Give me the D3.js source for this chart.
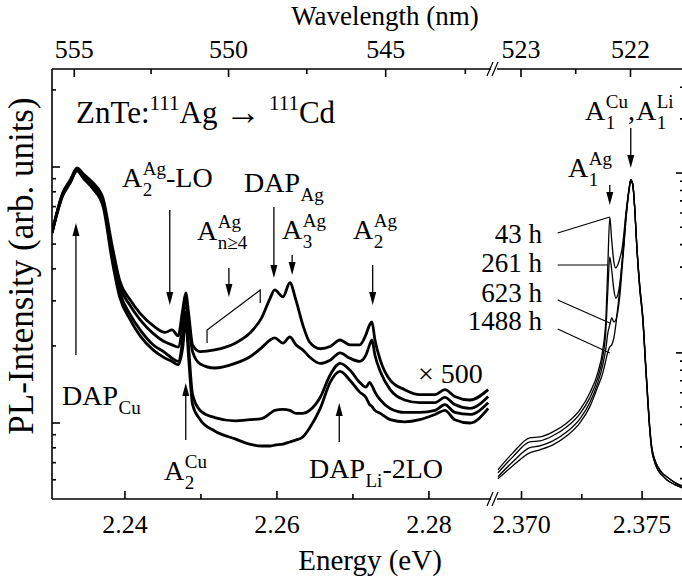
<!DOCTYPE html>
<html>
<head>
<meta charset="utf-8">
<script src="https://cdn.jsdelivr.net/npm/d3@7"></script>
<style>
body { margin: 0; background: #fff; }
text { font-family: "Liberation Serif", "Times New Roman", Times, serif; fill: #000; }
</style>
</head>
<body>
<svg id="plot" width="682" height="583" font-family="Liberation Serif"></svg>
<script>
// left panel (x500), energies in eV, intensity arb. units
const energyL = [2.2304, 2.2318, 2.2328, 2.2337, 2.2345, 2.2358, 2.2371, 2.2383, 2.2393, 2.2407,
    2.2420, 2.2437, 2.2453, 2.2462, 2.2470, 2.2476, 2.2480, 2.2484, 2.2489, 2.2499,
    2.2518, 2.2545, 2.2564, 2.2580, 2.2591, 2.2597, 2.2608, 2.2617, 2.2625, 2.2634,
    2.2643, 2.2657, 2.2670, 2.2683, 2.2696, 2.2709, 2.2717, 2.2722, 2.2725, 2.2729,
    2.2736, 2.2749, 2.2768, 2.2788, 2.2808, 2.2821, 2.2834, 2.2854, 2.2878];
const int43L = [5.53, 7.92, 8.89, 9.91, 9.41, 8.67, 7.57, 4.96, 3.61, 3.02,
    2.68, 2.40, 2.26, 2.31, 2.19, 2.77, 3.22, 2.65, 2.02, 1.90,
    1.93, 2.05, 2.24, 2.58, 3.07, 3.31, 3.11, 3.53, 3.02, 2.42,
    2.07, 1.95, 1.99, 2.11, 2.02, 2.02, 2.21, 2.42, 2.48, 2.11,
    1.76, 1.47, 1.35, 1.29, 1.29, 1.35, 1.27, 1.23, 1.35];
const int261L = [5.53, 7.85, 8.81, 9.83, 9.23, 8.51, 7.37, 4.73, 3.45, 2.87,
    2.53, 2.24, 2.07, 2.02, 1.98, 2.42, 3.02, 2.42, 1.90, 1.70,
    1.64, 1.71, 1.81, 1.97, 2.11, 2.15, 2.05, 2.17, 2.02, 1.93,
    1.81, 1.71, 1.76, 1.88, 1.79, 1.74, 1.84, 2.02, 2.11, 1.84,
    1.59, 1.35, 1.23, 1.20, 1.20, 1.26, 1.18, 1.14, 1.27];
const int623L = [5.53, 7.78, 8.74, 9.73, 9.14, 8.36, 7.24, 4.53, 3.26, 2.65,
    2.31, 2.02, 1.88, 1.79, 1.74, 2.11, 2.71, 1.93, 1.29, 1.12,
    1.05, 1.02, 1.03, 1.04, 1.09, 1.12, 1.13, 1.12, 1.09, 1.09,
    1.12, 1.26, 1.54, 1.71, 1.61, 1.44, 1.38, 1.44, 1.40, 1.32,
    1.23, 1.14, 1.10, 1.10, 1.12, 1.18, 1.10, 1.08, 1.20];
const int1488L = [5.53, 7.70, 8.67, 9.65, 9.06, 8.21, 7.05, 4.33, 3.11, 2.53,
    2.19, 1.93, 1.79, 1.74, 1.69, 1.97, 2.53, 1.76, 1.18, 1.03,
    0.931, 0.867, 0.827, 0.813, 0.813, 0.820, 0.827, 0.843, 0.858, 0.882,
    0.956, 1.14, 1.44, 1.59, 1.47, 1.32, 1.26, 1.18, 1.16, 1.12,
    1.09, 1.03, 1.01, 1.03, 1.08, 1.12, 1.03, 1.00, 1.14];

// right panel (exciton region)
const energyR = [2.36902, 2.36964, 2.37034, 2.37076, 2.37130, 2.37188, 2.37242, 2.37283, 2.37316, 2.37337,
    2.37350, 2.37358, 2.37366, 2.37374, 2.37383, 2.37391, 2.37399, 2.37408, 2.37416, 2.37424,
    2.37432, 2.37441, 2.37449, 2.37453, 2.37461, 2.37470, 2.37478, 2.37490, 2.37503, 2.37515,
    2.37524, 2.37532, 2.37540, 2.37553, 2.37565, 2.37586, 2.37602, 2.37636, 2.37665, 2.37698];
const int43R = [0.224, 0.278, 0.337, 0.341, 0.364, 0.408, 0.482, 0.599, 0.774, 1.039,
    1.565, 3.08, 5.69, 4.25, 3.20, 2.97, 3.08, 3.37, 3.73, 4.52,
    5.84, 7.36, 8.69, 9.15, 8.69, 6.23, 3.98, 2.39, 1.585, 0.858,
    0.548, 0.383, 0.300, 0.254, 0.233, 0.213, 0.205, 0.190, 0.182, 0.178];
const int261R = [0.215, 0.264, 0.320, 0.324, 0.346, 0.388, 0.458, 0.562, 0.726, 0.950,
    1.342, 2.24, 3.41, 2.89, 2.24, 2.02, 2.10, 2.45, 3.08, 3.98,
    5.34, 7.08, 8.58, 9.15, 8.69, 6.23, 3.98, 2.39, 1.585, 0.858,
    0.548, 0.383, 0.300, 0.254, 0.233, 0.213, 0.205, 0.190, 0.182, 0.178];
const int623R = [0.205, 0.248, 0.297, 0.304, 0.324, 0.364, 0.430, 0.528, 0.681, 0.858,
    1.066, 1.292, 1.431, 1.565, 1.486, 1.525, 1.69, 2.10, 2.82, 3.83,
    5.34, 7.08, 8.58, 9.15, 8.69, 6.15, 3.88, 2.30, 1.525, 0.825,
    0.528, 0.369, 0.289, 0.245, 0.224, 0.207, 0.197, 0.185, 0.178, 0.173];
const int1488R = [0.1995, 0.236, 0.278, 0.289, 0.308, 0.346, 0.408, 0.501, 0.647, 0.774,
    0.914, 1.013, 1.080, 1.108, 1.212, 1.431, 1.778, 2.30, 3.08, 4.14,
    5.62, 7.26, 8.69, 9.15, 8.69, 6.15, 3.88, 2.30, 1.525, 0.825,
    0.528, 0.369, 0.289, 0.245, 0.224, 0.207, 0.197, 0.185, 0.178, 0.173];

// axis ticks
const energyTicksL = [2.24, 2.26, 2.28];
const energyMinorL = [2.25, 2.27];
const energyTicksR = [2.370, 2.375];
const energyMinorR = [2.3725];
const waveTicksL = [555, 550, 545];
const waveMinorL = [552.5, 547.5, 542.5];
const waveTicksR = [523, 522];
const waveMinorR = [522.5];
const yMajorL = [1, 10];
const yMinorL = [0.6, 0.7, 0.8, 0.9, 2, 3, 4, 5, 6, 7, 8, 9, 20];
const yMajorR = [1, 10];
const yMinorR = [0.2, 0.3, 0.4, 0.5, 0.6, 0.7, 0.8, 0.9, 2, 3, 4, 5, 6, 7, 8, 9, 20, 30];

const svg = d3.select("#plot");
const topY = 69, bottomY = 499, leftX = 52;
const breakL = 491, breakR = 497, rightEdge = 686;

const xL = d3.scaleLinear().domain([2.2304, 2.2883]).range([52, 492]);
const xR = d3.scaleLinear().domain([2.3689, 2.3768]).range([495, 685.5]);
const yL = d3.scaleLog().domain([0.5048, 24.14]).range([bottomY, topY]);
const yR = d3.scaleLog().domain([0.154, 37.9]).range([bottomY, topY]);

// wavelength in air (nm) -> photon energy (eV)
function nmToEV(nm) { return 1239.842 / (nm * 1.000277); }

// clip paths
const defs = svg.append("defs");
defs.append("clipPath").attr("id", "clipL").append("rect")
    .attr("x", leftX).attr("y", topY).attr("width", breakL - leftX).attr("height", bottomY - topY);
defs.append("clipPath").attr("id", "clipR").append("rect")
    .attr("x", breakR).attr("y", topY).attr("width", rightEdge - breakR).attr("height", bottomY - topY);

// curves
const lineL = d3.line().x(d => xL(d[0])).y(d => yL(d[1])).curve(d3.curveMonotoneX);
const lineR = d3.line().x(d => xR(d[0])).y(d => yR(d[1])).curve(d3.curveMonotoneX);

[int43L, int261L, int623L, int1488L].forEach(function(s) {
    svg.append("path")
        .attr("clip-path", "url(#clipL)")
        .attr("d", lineL(d3.zip(energyL, s)))
        .attr("fill", "none")
        .attr("stroke", "#000")
        .attr("stroke-width", 2.8)
        .attr("stroke-linejoin", "round");
});
[int43R, int261R, int623R, int1488R].forEach(function(s) {
    svg.append("path")
        .attr("clip-path", "url(#clipR)")
        .attr("d", lineR(d3.zip(energyR, s)))
        .attr("fill", "none")
        .attr("stroke", "#000")
        .attr("stroke-width", 1.3);
});

// frame
const frame = svg.append("g").attr("stroke", "#000").attr("stroke-width", 1.6).attr("fill", "none");
frame.append("line").attr("x1", leftX).attr("x2", leftX).attr("y1", topY).attr("y2", bottomY);
frame.append("line").attr("x1", leftX).attr("x2", breakL).attr("y1", topY).attr("y2", topY);
frame.append("line").attr("x1", breakR).attr("x2", rightEdge).attr("y1", topY).attr("y2", topY);
frame.append("line").attr("x1", leftX).attr("x2", breakL).attr("y1", bottomY).attr("y2", bottomY);
frame.append("line").attr("x1", breakR).attr("x2", rightEdge).attr("y1", bottomY).attr("y2", bottomY);
frame.append("line").attr("x1", 684).attr("x2", 684).attr("y1", topY).attr("y2", bottomY);

// break marks
[topY, bottomY].forEach(function(yy) {
    [breakL - 1, breakR - 2].forEach(function(bx) {
        frame.append("line").attr("stroke-width", 1.2)
            .attr("x1", bx - 3).attr("y1", yy + 7).attr("x2", bx + 3).attr("y2", yy - 7);
    });
});

// x ticks
function xTick(x, y, len) {
    frame.append("line").attr("x1", x).attr("x2", x).attr("y1", y).attr("y2", y + len);
}
energyTicksL.forEach(e => xTick(xL(e), bottomY, -8));
energyMinorL.forEach(e => xTick(xL(e), bottomY, -5));
energyTicksR.forEach(e => xTick(xR(e), bottomY, -8));
energyMinorR.forEach(e => xTick(xR(e), bottomY, -5));
waveTicksL.forEach(w => xTick(xL(nmToEV(w)), topY, 8));
waveMinorL.forEach(w => xTick(xL(nmToEV(w)), topY, 5));
waveTicksR.forEach(w => xTick(xR(nmToEV(w)), topY, 8));
waveMinorR.forEach(w => xTick(xR(nmToEV(w)), topY, 5));

// y ticks
function yTick(x, y, len) {
    frame.append("line").attr("x1", x).attr("x2", x + len).attr("y1", y).attr("y2", y);
}
yMajorL.forEach(v => yTick(leftX, yL(v), 8));
yMinorL.forEach(v => yTick(leftX, yL(v), 4));
yMajorR.forEach(v => yTick(684, yR(v), -8));
yMinorR.forEach(v => yTick(684, yR(v), -4));

// tick labels
const fmt3 = d3.format(".3f"), fmt2 = d3.format(".2f");
const tickF = 26;
energyTicksL.forEach(function(e) {
    svg.append("text").attr("x", xL(e)).attr("y", 533).attr("text-anchor", "middle")
        .attr("font-size", tickF).text(fmt2(e));
});
energyTicksR.forEach(function(e) {
    svg.append("text").attr("x", xR(e)).attr("y", 533).attr("text-anchor", "middle")
        .attr("font-size", tickF).text(fmt3(e));
});
waveTicksL.forEach(function(w) {
    svg.append("text").attr("x", xL(nmToEV(w))).attr("y", 58).attr("text-anchor", "middle")
        .attr("font-size", tickF).text(w);
});
waveTicksR.forEach(function(w) {
    svg.append("text").attr("x", xR(nmToEV(w))).attr("y", 58).attr("text-anchor", "middle")
        .attr("font-size", tickF).text(w);
});

// axis titles
svg.append("text").attr("x", 370).attr("y", 570).attr("text-anchor", "middle")
    .attr("font-size", 29).text("Energy (eV)");
svg.append("text").attr("x", 385).attr("y", 25).attr("text-anchor", "middle")
    .attr("font-size", 27).text("Wavelength (nm)");
svg.append("text").attr("transform", "translate(33,266) rotate(-90)").attr("text-anchor", "middle")
    .attr("font-size", 35).text("PL-Intensity (arb. units)");

// labels with stacked sub/superscripts
const bigF = 28, smallF = 19;
function label(x, y, base, sup, sub, rest) {
    const t = svg.append("text").attr("x", x).attr("y", y).attr("font-size", bigF).text(base);
    const x2 = x + t.node().getComputedTextLength() + 0.5;
    let w = 0;
    if (sup) {
        const s = svg.append("text").attr("x", x2).attr("y", y - 12).attr("font-size", smallF).text(sup);
        w = Math.max(w, s.node().getComputedTextLength());
    }
    if (sub) {
        const s = svg.append("text").attr("x", x2).attr("y", y + 9).attr("font-size", smallF).text(sub);
        w = Math.max(w, s.node().getComputedTextLength());
    }
    let x3 = x2 + w;
    if (rest) {
        const r = svg.append("text").attr("x", x3).attr("y", y).attr("font-size", bigF).text(rest);
        x3 += r.node().getComputedTextLength();
    }
    return x3;
}

// title inside plot
const zt = svg.append("text").attr("x", 76).attr("y", 123).attr("font-size", 31);
zt.append("tspan").text("ZnTe:");
zt.append("tspan").attr("dy", -13).attr("font-size", 21).text("111");
zt.append("tspan").attr("dy", 13).text("Ag ");
zt.append("tspan").attr("font-size", 36).attr("dy", 1).text("\u2192");
zt.append("tspan").attr("dy", -1).text(" ");
zt.append("tspan").attr("dy", -13).attr("font-size", 21).text("111");
zt.append("tspan").attr("dy", 13).text("Cd");

label(122, 187, "A", "Ag", "2", "-LO");
label(244, 192, "DAP", null, "Ag", null);
label(197, 240, "A", "Ag", "n\u22654", null);
label(282, 239, "A", "Ag", "3", null);
label(353, 239, "A", "Ag", "2", null);
label(62, 405, "DAP", null, "Cu", null);
label(164, 480, "A", "Cu", "2", null);
label(309, 478, "DAP", null, "Li", "-2LO");
const xc = label(585, 120, "A", "Cu", "1", ",");
label(xc + 1, 120, "A", "Li", "1", null);
label(568, 177, "A", "Ag", "1", null);
svg.append("text").attr("x", 418).attr("y", 383).attr("font-size", bigF).text("\u00d7 500");

// arrows: energy position, start y, tip y
const arrowsL = [[2.2459, 210, 305], [2.23355, 355, 223], [2.25368, 268, 297], [2.2596, 207, 278],
    [2.2620, 255, 275], [2.2726, 265, 305], [2.2480, 440, 383], [2.2682, 442, 403]];
const arrowsR = [[2.37453, 128, 168], [2.37366, 185, 205]];
function arrow(x, y1, y2) {
    const dir = y2 > y1 ? 1 : -1;
    svg.append("line").attr("x1", x).attr("x2", x).attr("y1", y1).attr("y2", y2 - dir * 10)
        .attr("stroke", "#000").attr("stroke-width", 1.3);
    svg.append("path")
        .attr("d", `M${x},${y2} L${x - 3.5},${y2 - dir * 13} L${x + 3.5},${y2 - dir * 13} Z`)
        .attr("fill", "#000");
}
arrowsL.forEach(a => arrow(xL(a[0]), a[1], a[2]));
arrowsR.forEach(a => arrow(xR(a[0]), a[1], a[2]));

// bracket for A_n>=4
const bracket = [[2.2508, 343], [2.2508, 330], [2.2578, 290], [2.2578, 303]];
svg.append("path")
    .attr("d", d3.line().x(d => xL(d[0])).y(d => d[1])(bracket))
    .attr("fill", "none").attr("stroke", "#000").attr("stroke-width", 1.2);

// time labels with leader lines
const hours = ["43 h", "261 h", "623 h", "1488 h"];
const hourY = [243, 272, 302, 330];
const leaders = [[233, 2.37366, 217], [265, 2.37358, 265], [300, 2.37366, 323], [329, 2.37366, 353]];
hours.forEach(function(h, i) {
    svg.append("text").attr("x", 542).attr("y", hourY[i]).attr("text-anchor", "end")
        .attr("font-size", 27).text(h);
    svg.append("line")
        .attr("x1", xR(2.37150)).attr("y1", leaders[i][0])
        .attr("x2", xR(leaders[i][1])).attr("y2", leaders[i][2])
        .attr("stroke", "#000").attr("stroke-width", 1.1);
});
</script>
</body>
</html>
